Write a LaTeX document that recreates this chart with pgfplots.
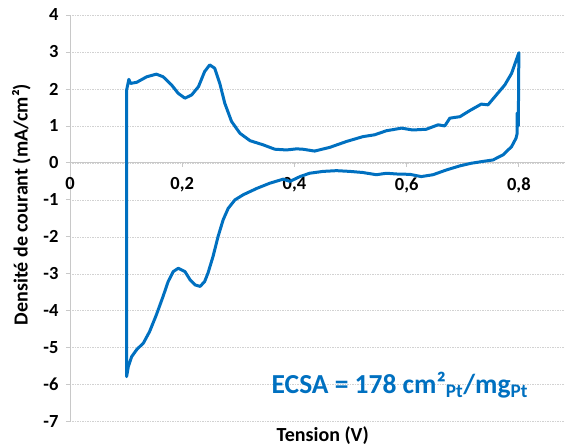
\documentclass[border=0pt]{standalone}
\usepackage{fontspec}
\setmainfont{Carlito}
\usepackage{pgfplots}
\pgfplotsset{compat=1.18}
\definecolor{cvblue}{RGB}{0,112,192}
\definecolor{gridgray}{RGB}{210,210,210}
\definecolor{axgray}{RGB}{200,200,200}

% voltammogramme : balayage aller puis retour
\pgfplotstableread{
E i
0.101 1.97
0.105 2.26
0.108 2.15
0.119 2.18
0.137 2.33
0.154 2.40
0.166 2.33
0.181 2.11
0.193 1.88
0.205 1.75
0.217 1.84
0.229 2.06
0.240 2.47
0.249 2.65
0.258 2.56
0.267 2.15
0.276 1.61
0.288 1.12
0.303 0.80
0.321 0.60
0.344 0.49
0.365 0.37
0.386 0.35
0.404 0.38
0.415 0.37
0.436 0.32
0.463 0.42
0.493 0.58
0.522 0.71
0.543 0.76
0.564 0.87
0.591 0.94
0.611 0.89
0.635 0.91
0.656 1.03
0.668 1.00
0.677 1.21
0.695 1.25
0.712 1.41
0.733 1.59
0.745 1.57
0.760 1.84
0.775 2.11
0.787 2.42
0.800 2.98
0.799 1.00
0.797 1.35
0.797 0.80
0.795 0.67
0.787 0.44
0.772 0.22
0.754 0.08
0.736 0.04
0.715 -0.01
0.695 -0.08
0.671 -0.19
0.647 -0.32
0.626 -0.37
0.606 -0.31
0.582 -0.30
0.564 -0.28
0.546 -0.32
0.522 -0.26
0.499 -0.23
0.475 -0.21
0.451 -0.23
0.427 -0.28
0.410 -0.37
0.392 -0.50
0.380 -0.44
0.356 -0.55
0.333 -0.69
0.309 -0.86
0.294 -1.00
0.282 -1.23
0.273 -1.54
0.264 -1.99
0.255 -2.53
0.246 -2.98
0.240 -3.21
0.232 -3.34
0.223 -3.30
0.214 -3.16
0.205 -2.94
0.193 -2.85
0.184 -2.94
0.175 -3.21
0.166 -3.61
0.154 -4.11
0.142 -4.56
0.131 -4.87
0.119 -5.05
0.110 -5.24
0.104 -5.51
0.101 -5.78
0.101 1.97
}\cvdata

\begin{document}
\begin{tikzpicture}
\begin{axis}[
  scale only axis,
  width=495pt, height=407pt,
  xmin=0, xmax=0.8815,
  ymin=-7, ymax=4,
  axis x line=middle,
  axis y line=left,
  x axis line style={-, axgray, line width=0.8pt},
  y axis line style={-, axgray, line width=0.8pt},
  hide obscured x ticks=false,
  hide obscured y ticks=false,
  xtick={0,0.2,0.4,0.6,0.8},
  ytick={-7,-6,...,4},
  tick align=outside,
  major tick length=4pt,
  tick style={axgray, line width=0.8pt},
  ymajorgrids,
  grid style={gridgray, dash pattern=on 1.5pt off 1pt, line width=0.6pt},
  /pgf/number format/assume math mode=true,
  /pgf/number format/use comma,
  xticklabel style={font=\bfseries\fontsize{18.5}{20}\selectfont, yshift=-7pt},
  yticklabel style={font=\bfseries\fontsize{18.5}{20}\selectfont, xshift=-4pt},
  xlabel={Tension (V)},
  ylabel={Densité de courant (mA/cm²)},
  label style={font=\bfseries\fontsize{20}{23}\selectfont},
  xlabel style={at={(axis description cs:0.511,-0.034)}, anchor=center},
  ylabel style={at={(axis description cs:-0.098,0.534)}, anchor=center},
  clip=false,
]
\addplot[cvblue, line width=3pt, line join=round] table[x=E, y=i] {\cvdata};
\node[text=cvblue, font=\bfseries\fontsize{27.5}{32}\selectfont]
  at (axis cs:0.588,-6.0) {ECSA = 178 cm²\textsubscript{Pt}/mg\textsubscript{Pt}};
\path (axis description cs:-0.1414,-0.0639) rectangle (axis description cs:1,1.0369);
\end{axis}
\end{tikzpicture}
\end{document}
